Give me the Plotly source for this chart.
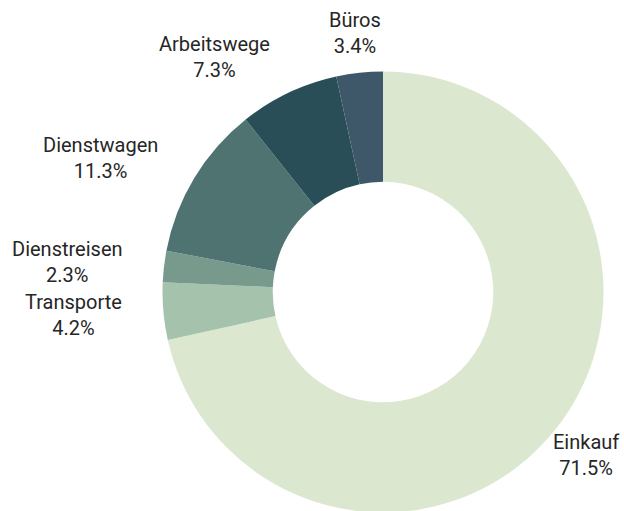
import math
import plotly.graph_objects as go

labels = ["Einkauf", "Transporte", "Dienstreisen", "Dienstwagen", "Arbeitswege", "Büros"]
values = [71.5, 4.2, 2.3, 11.3, 7.3, 3.4]
colors = ["#dbe8cf", "#a4c2ac", "#789a8d", "#4e7370", "#2a4e57", "#3e586a"]

# figure is a little taller than the 511px window; the bottom of the ring is cropped like the reference
W, H = 624, 520
CX, CY, R = 383.0, 292.0, 220.5   # pie centre / radius in pixels
LABEL_R = 260.0                    # radius where label anchors sit

fig = go.Figure(go.Pie(
    labels=labels,
    values=values,
    hole=0.5,
    sort=False,
    direction="clockwise",
    rotation=0,
    marker=dict(colors=colors, line=dict(width=0)),
    textinfo="none",
    hoverinfo="label+percent",
    automargin=False,
    domain=dict(x=[(CX - R) / W, (CX + R) / W], y=[(H - CY - R) / H, (H - CY + R) / H]),
    showlegend=False,
))

total = sum(values)
annotations = []
cum = 0.0
for lab, v in zip(labels, values):
    mid = (cum + v / 2) / total * 2 * math.pi
    cum += v
    s, c = math.sin(mid), math.cos(mid)
    px = CX + LABEL_R * s
    py = CY - LABEL_R * c
    annotations.append(dict(
        x=px / W, y=(H - py) / H, xref="paper", yref="paper",
        text=f"{lab}<br>{v / total * 100:.1f}%",
        showarrow=False,
        xanchor="right" if s < -0.2 else "center",
        yanchor="middle",
        align="center",
        font=dict(family="Roboto", size=20, color="#262626"),
    ))

fig.update_layout(
    width=W, height=H,
    margin=dict(l=0, r=0, t=0, b=0, autoexpand=False),
    paper_bgcolor="white",
    plot_bgcolor="white",
    annotations=annotations,
)
fig.write_html(
    "out.html",
    config={"responsive": False, "displayModeBar": False},
    post_script="document.body.style.margin='0px';document.body.style.overflow='hidden';",
)
